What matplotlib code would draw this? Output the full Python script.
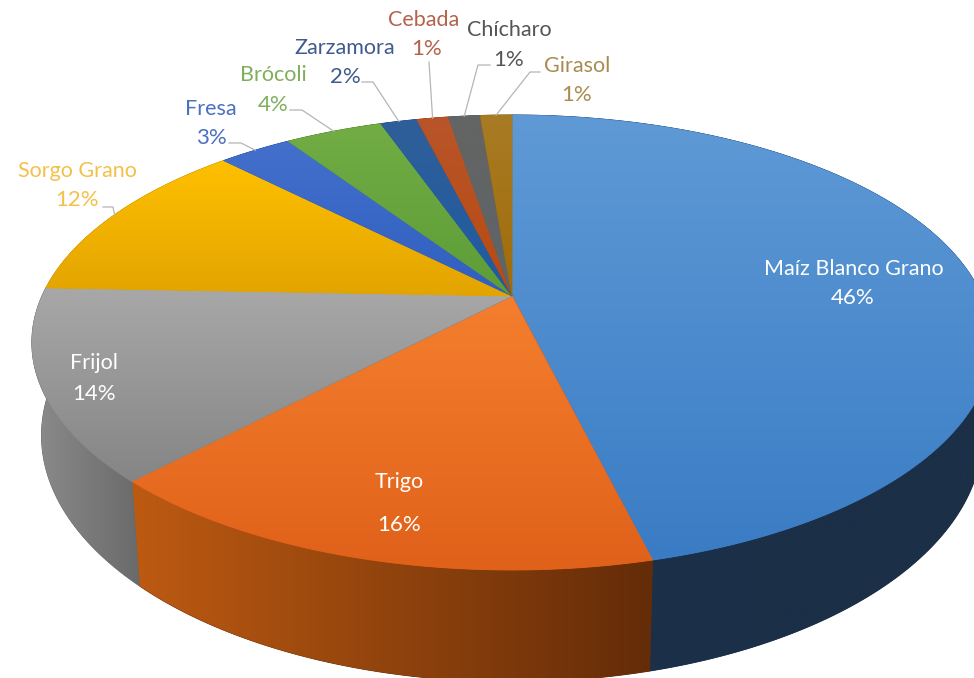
import numpy as np
import matplotlib
matplotlib.use('Agg')
import matplotlib.pyplot as plt
from matplotlib.colors import LinearSegmentedColormap
from matplotlib.patches import Polygon

plt.rcParams['font.family'] = ['Lato', 'DejaVu Sans']

# DATA
names = ['Maíz Blanco Grano', 'Trigo', 'Frijol', 'Sorgo Grano', 'Fresa',
         'Brócoli', 'Zarzamora', 'Cebada', 'Chícharo', 'Girasol']
values = [46.15, 15.95, 13.5, 12.0, 3, 4, 1.5, 1.3, 1.3, 1.3]
pct_labels = ['46%', '16%', '14%', '12%', '3%', '4%', '2%', '1%', '1%', '1%']

# top face gradient (upper colour, lower colour)
face_cols = [('#5f9ad6', '#3a7cc4'), ('#f57f2e', '#e0611a'), ('#a8a8a8', '#858585'),
             ('#ffc000', '#e2a400'), ('#4470cc', '#2f5fc0'), ('#72ad44', '#5d9c38'),
             ('#2f5f9a', '#1f5ba0'), ('#b9552a', '#b84a10'), ('#646464', '#5e6468'),
             ('#a87b25', '#a06c08')]
# wall gradient (left end, right end)
wall_cols = [('#1b3049', '#1b2f47'), ('#bd5a12', '#642c08'), ('#8c8c8c', '#6a6a6a'),
             ('#a07800', '#a07800'), ('#2a4a80', '#2a4a80'), ('#40682a', '#40682a'),
             ('#1c3a60', '#1c3a60'), ('#703010', '#703010'), ('#404040', '#404040'),
             ('#604810', '#604810')]

# label text: x, y of name and percent, colour
label_pos = [(854, 269, 853, 298, 'white'), (399, 482, 399, 525, 'white'),
             (94, 363, 94, 394, 'white'), (77, 171, 77, 200, '#f4c04a'),
             (211, 109, 211, 138, '#4a70c0'), (273, 75, 273, 105, '#7fae5c'),
             (345, 48, 345, 77, '#3f5a8c'), (424, 20, 427, 49, '#b4634a'),
             (509, 30, 509, 60, '#555555'), (577, 66, 577, 95, '#a98b50')]
# leader elbows for the outside labels: (elbow, end)
leaders = {3: ((113, 207), (103, 207)), 4: ((241, 143), (229, 143)),
           5: ((302, 110), (290, 110)), 6: ((373, 82), (362, 82)),
           7: ((429, 62), (429, 62)), 8: ((478, 65), (490, 65)),
           9: ((530, 72), (540, 72))}

# GEOMETRY (perspective view of a disc, lower rim a bit narrower)
cx, cy = 512, 296
ax_x, ax_y, k, wall_h, shrink = 470, 218, 0.2044, 89, 0.98


def rim(theta):
    den = 1 + k * np.cos(theta)
    return cx + ax_x * np.sin(theta) / den, cy - ax_y * np.cos(theta) / den, wall_h / den


fig = plt.figure(figsize=(9.74, 6.78), dpi=100)
ax = fig.add_axes([0, 0, 1, 1])

bounds = np.cumsum([0] + values) / np.sum(values) * 2 * np.pi
grad_v = np.linspace(0, 1, 256).reshape(-1, 1)
grad_h = np.linspace(0, 1, 256).reshape(1, -1)


def shaded(xs, ys, colors, grad, z):
    # solid underlay keeps the edge smooth, the clipped image gives the shading
    cmap = LinearSegmentedColormap.from_list('c', colors)
    ax.fill(xs, ys, color=colors[1], lw=0.6, zorder=z)
    im = ax.imshow(grad, cmap=cmap, aspect='auto', vmin=0, vmax=1,
                   extent=(xs.min(), xs.max(), ys.max(), ys.min()), zorder=z)
    im.set_clip_path(Polygon(np.c_[xs, ys], closed=True, transform=ax.transData))


# side walls first, the top face covers the back part
for i in range(len(values)):
    th = np.linspace(bounds[i], bounds[i + 1], int(values[i] * 8) + 2)
    x, y, h = rim(th)
    x_low = cx + (x - cx) * shrink
    shaded(np.r_[x, x_low[::-1]], np.r_[y, (y + h)[::-1]], wall_cols[i], grad_h, 1)

# top face with a vertical gradient
for i in range(len(values)):
    th = np.linspace(bounds[i], bounds[i + 1], int(values[i] * 8) + 2)
    x, y, _ = rim(th)
    shaded(np.r_[cx, x], np.r_[cy, y], face_cols[i], grad_v, 2)

# leader lines from the rim of each small slice
for i, (elbow, end) in leaders.items():
    mid = (bounds[i] + bounds[i + 1]) / 2
    x0, y0, _ = rim(mid)
    ax.plot([x0, elbow[0], end[0]], [y0, elbow[1], end[1]], color='#b5b5b5', lw=0.9, zorder=3)

# labels
for i, name in enumerate(names):
    nx, ny, px, py, col = label_pos[i]
    ax.text(nx, ny, name, color=col, fontsize=15.5, ha='center', va='center', zorder=4)
    ax.text(px, py, pct_labels[i], color=col, fontsize=16, ha='center', va='center', zorder=4)

ax.set_xlim(0, 974)
ax.set_ylim(678, 0)
ax.axis('off')
fig.savefig('out.png', dpi=100)
